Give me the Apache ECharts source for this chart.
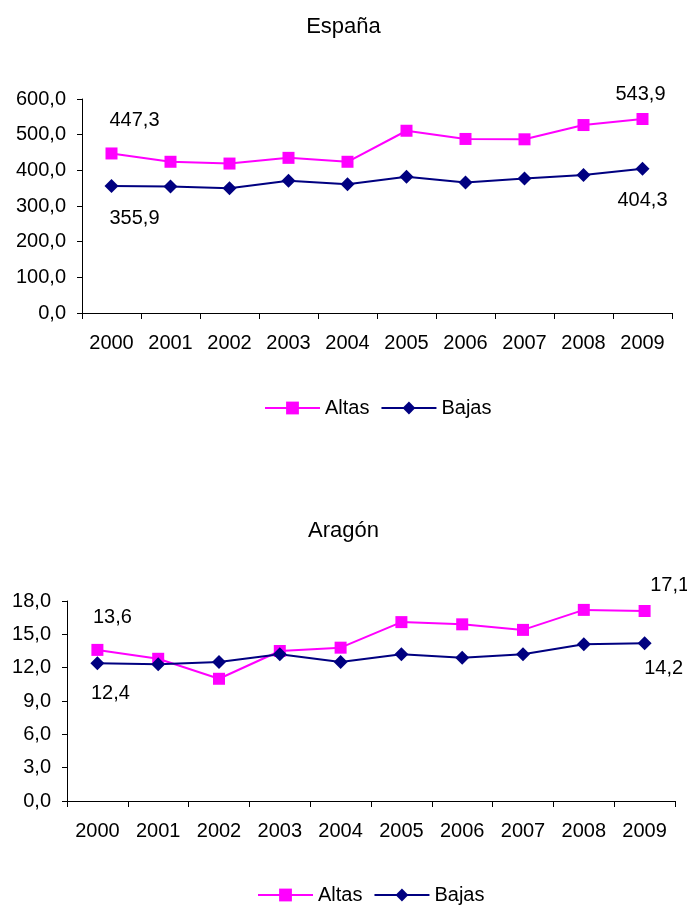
<!DOCTYPE html>
<html><head><meta charset="utf-8">
<script src="https://cdn.jsdelivr.net/npm/echarts@6/dist/echarts.min.js"></script>
<style>html,body{margin:0;padding:0;background:#fff}#c{width:687px;height:908px}</style>
</head><body><div id="c"></div>
<script>
const years = ['2000','2001','2002','2003','2004','2005','2006','2007','2008','2009'];
const espAltas = [447.3, 424, 419, 435, 424, 511, 488, 487, 527, 543.9];
const espBajas = [355.9, 355, 350, 371, 361, 382, 366, 377, 387, 404.3];
const araAltas = [13.6, 12.8, 11.0, 13.5, 13.8, 16.1, 15.9, 15.4, 17.2, 17.1];
const araBajas = [12.4, 12.3, 12.5, 13.2, 12.5, 13.2, 12.9, 13.2, 14.1, 14.2];

const FONT = 'Liberation Sans, Arial, sans-serif';
const FS = 20;
const fmt = v => v.toFixed(1).replace('.', ',');
const PINK = '#FF00FF', NAVY = '#000080';

function withLabels(vals, offFirst, offLast) {
  return vals.map((v, i) => {
    if (i === 0 || i === vals.length - 1) {
      return { value: v, label: { show: true, position: 'inside', offset: i === 0 ? offFirst : offLast,
        formatter: p => fmt(p.value), color: '#000', fontSize: FS, fontFamily: FONT } };
    }
    return v;
  });
}

function xAxis(gi) {
  return { type: 'category', gridIndex: gi, data: years, boundaryGap: true,
    axisLine: { lineStyle: { color: '#000', width: 1 } },
    axisTick: { show: true, length: 6, lineStyle: { color: '#000' } },
    axisLabel: { color: '#000', fontSize: FS, fontFamily: FONT, margin: 20, interval: 0 } };
}
function yAxis(gi, max, interval) {
  return { type: 'value', gridIndex: gi, min: 0, max: max, interval: interval,
    axisLine: { show: true, lineStyle: { color: '#000', width: 1 } },
    axisTick: { show: true, length: 5, lineStyle: { color: '#000' } },
    splitLine: { show: false },
    axisLabel: { color: '#000', fontSize: FS, fontFamily: FONT, margin: 16, formatter: fmt } };
}
function ser(name, data, gi, color, sym, size) {
  return { name: name, type: 'line', xAxisIndex: gi, yAxisIndex: gi, data: data,
    symbol: sym, symbolSize: size, showSymbol: true,
    lineStyle: { color: color, width: 2 }, itemStyle: { color: color },
    emphasis: { disabled: true }, animation: false };
}
function legend(top, left) {
  return { top: top, left: left, itemWidth: 55, itemHeight: 16, itemGap: 11,
    textStyle: { color: '#000', fontSize: FS, fontFamily: FONT },
    data: ['Altas', 'Bajas'] };
}

const chart = echarts.init(document.getElementById('c'), null, { renderer: 'canvas' });
chart.setOption({
  backgroundColor: '#fff',
  animation: false,
  title: [
    { text: 'España', left: 'center', top: 11, textStyle: { color: '#000', fontSize: 22, fontWeight: 'normal', fontFamily: FONT } },
    { text: 'Aragón', left: 'center', top: 515, textStyle: { color: '#000', fontSize: 22, fontWeight: 'normal', fontFamily: FONT } }
  ],
  legend: [legend(393, 259), legend(880, 252)],
  grid: [
    { left: 82, right: 15, top: 99, height: 214 },
    { left: 67, right: 12, top: 601, height: 200 }
  ],
  xAxis: [xAxis(0), xAxis(1)],
  yAxis: [yAxis(0, 600, 100), yAxis(1, 18, 3)],
  series: [
    ser('Altas', withLabels(espAltas, [23, -33], [-2, -25]), 0, PINK, 'rect', 12),
    ser('Bajas', withLabels(espBajas, [23, 32], [0, 32]), 0, NAVY, 'diamond', 14),
    ser('Altas', withLabels(araAltas, [15, -32], [25, -26]), 1, PINK, 'rect', 12),
    ser('Bajas', withLabels(araBajas, [13, 30], [19, 25]), 1, NAVY, 'diamond', 14)
  ]
});
</script></body></html>
